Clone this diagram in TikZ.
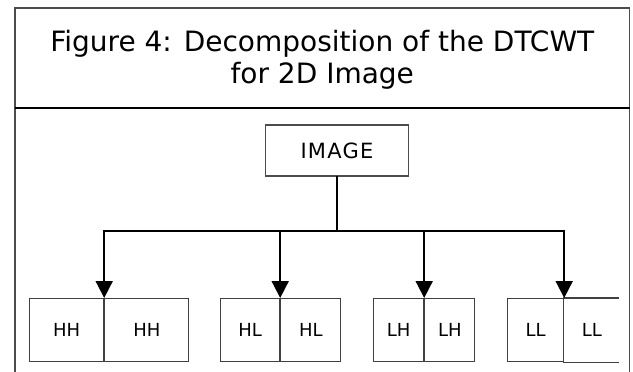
\documentclass[tikz,border=0pt]{standalone}
\usepackage{fontspec}
\setmainfont{DejaVu Sans}
\usepackage{tikz}
\usetikzlibrary{positioning,arrows.meta}

\begin{document}
\begin{tikzpicture}[
  x=1pt, y=-1pt,
  outline/.style={draw=black!70, line width=1.5pt},
  caption/.style={anchor=base, font=\fontsize{28}{31}\selectfont},
  cell/.style={draw=black!75, line width=1.2pt, minimum height=63pt, inner sep=0pt,
               font=\fontsize{18}{21}\selectfont},
  opencell/.style={cell, draw=none},
  bus/.style={line width=1.8pt, line cap=rect},
  ar/.style={line width=1.8pt, -{Triangle[width=17pt,length=17pt]}}
]
\useasboundingbox (0,0) rectangle (633,372);
% outer frame, its bottom edge lies below the page
\draw[outline] (15,380) -- (15,8) -- (629.5,8) -- (629.5,380);
\draw[line width=2pt] (15,108) -- (629.5,108);
\node[caption] (title) at (322.3,52) {Figure 4: Decomposition of the DTCWT};
\node[caption] (title2) at (322.3,83) {for 2D Image};

\node[draw=black!70, line width=1.2pt, minimum width=143pt, minimum height=51pt,
      font=\fontsize{21}{24}\selectfont\addfontfeature{LetterSpace=6}] (img) at (337,150.5) {IMAGE};

\node[cell, minimum width=74pt, anchor=north west] (hh1) at (29,298) {HH};
\node[cell, minimum width=84pt, right=0pt of hh1] (hh2) {HH};
\node[cell, minimum width=59pt, anchor=north west] (hl1) at (220,298) {HL};
\node[cell, minimum width=60pt, right=0pt of hl1] (hl2) {HL};
\node[cell, minimum width=50pt, anchor=north west] (lh1) at (373,298) {LH};
\node[cell, minimum width=50pt, right=0pt of lh1] (lh2) {LH};
\node[cell, minimum width=56pt, anchor=north west] (ll1) at (507,298) {LL};
\node[opencell, minimum width=54pt, right=0pt of ll1] (ll2) {LL};
% last cell is open on its right side
\draw[black!75, line width=1.2pt] ([xshift=-1pt]ll2.north west) -- (ll2.north east)
  ([xshift=-1pt]ll2.south west) -- (ll2.south east);

\coordinate (bus) at (0,231);
\draw[bus] (img.south) -- (img.south |- bus);
\draw[bus] (hh1.north east |- bus) -- (ll1.north east |- bus);
\foreach \c in {hh1,hl1,lh1,ll1} \draw[ar] (\c.north east |- bus) -- (\c.north east);
\end{tikzpicture}
\end{document}
